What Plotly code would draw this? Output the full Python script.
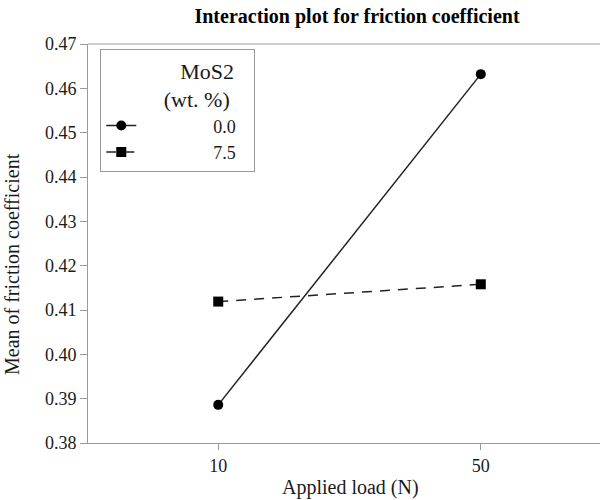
import plotly.graph_objects as go

loads = ["10", "50"]
mos2_00 = [0.3886, 0.4632]
mos2_75 = [0.4119, 0.4158]
y_ticks = [0.38, 0.39, 0.40, 0.41, 0.42, 0.43, 0.44, 0.45, 0.46, 0.47]
y_tick_text = ["0.38", "0.39", "0.40", "0.41", "0.42", "0.43", "0.44", "0.45", "0.46", "0.47"]

NB = "\u00a0"
FONT = "Liberation Serif"

fig = go.Figure()
fig.add_trace(go.Scatter(
    x=[0, 1], y=mos2_00, mode="lines+markers",
    name=NB * 16 + "0.0" + NB * 3,
    line=dict(color="#222222", width=1.5),
    marker=dict(symbol="circle", size=10, color="black"),
))
fig.add_trace(go.Scatter(
    x=[0, 1], y=mos2_75, mode="lines+markers",
    name=NB * 16 + "7.5" + NB * 3,
    line=dict(color="#222222", width=1.5, dash="10px,8px"),
    marker=dict(symbol="square", size=10, color="black"),
))

fig.update_layout(
    width=600, height=500,
    margin=dict(l=88, r=0, t=44, b=57),
    paper_bgcolor="white", plot_bgcolor="white",
    font=dict(family=FONT, size=18, color="#1a1a1a"),
    title=dict(text="<b>Interaction plot for friction coefficient</b>",
               font=dict(family=FONT, size=20, color="black"),
               x=0.595, xanchor="center", xref="container",
               y=0.969, yanchor="middle", yref="container"),
    xaxis=dict(
        tickmode="array", tickvals=[0, 1], ticktext=loads,
        range=[-0.496, 1.454],
        showline=True, linecolor="#9a9a9a", linewidth=1,
        ticks="outside", ticklen=6, tickcolor="#9a9a9a",
        showgrid=False, zeroline=False,
    ),
    yaxis=dict(
        tickmode="array", tickvals=y_ticks, ticktext=y_tick_text,
        range=[0.38, 0.47],
        showline=True, linecolor="#9a9a9a", linewidth=1,
        ticks="outside", ticklen=7, tickcolor="#9a9a9a",
        showgrid=False, zeroline=False,
    ),
    legend=dict(
        title=dict(text=NB * 14 + "MoS2<br>" + NB * 11 + "(wt. %)", side="top"),
        x=0.024, y=0.987, xanchor="left", yanchor="top",
        bordercolor="#9a9a9a", borderwidth=1, bgcolor="white",
        font=dict(family=FONT, size=18),
    ),
    showlegend=True,
)
fig.add_shape(type="line", xref="paper", yref="paper", x0=0, x1=1, y0=1, y1=1,
              line=dict(color="#9a9a9a", width=1))
fig.add_annotation(text="Mean of friction coefficient", textangle=-90,
                   xref="paper", yref="paper", x=(12 - 88) / 512, y=(443 - 264) / 399,
                   xanchor="center", yanchor="middle", showarrow=False,
                   font=dict(family=FONT, size=20, color="#1a1a1a"))
fig.add_annotation(text="Applied load (N)",
                   xref="paper", yref="paper", x=(350 - 88) / 512, y=(443 - 487) / 399,
                   xanchor="center", yanchor="middle", showarrow=False,
                   font=dict(family=FONT, size=20, color="#1a1a1a"))

fig.write_html("out.html")
